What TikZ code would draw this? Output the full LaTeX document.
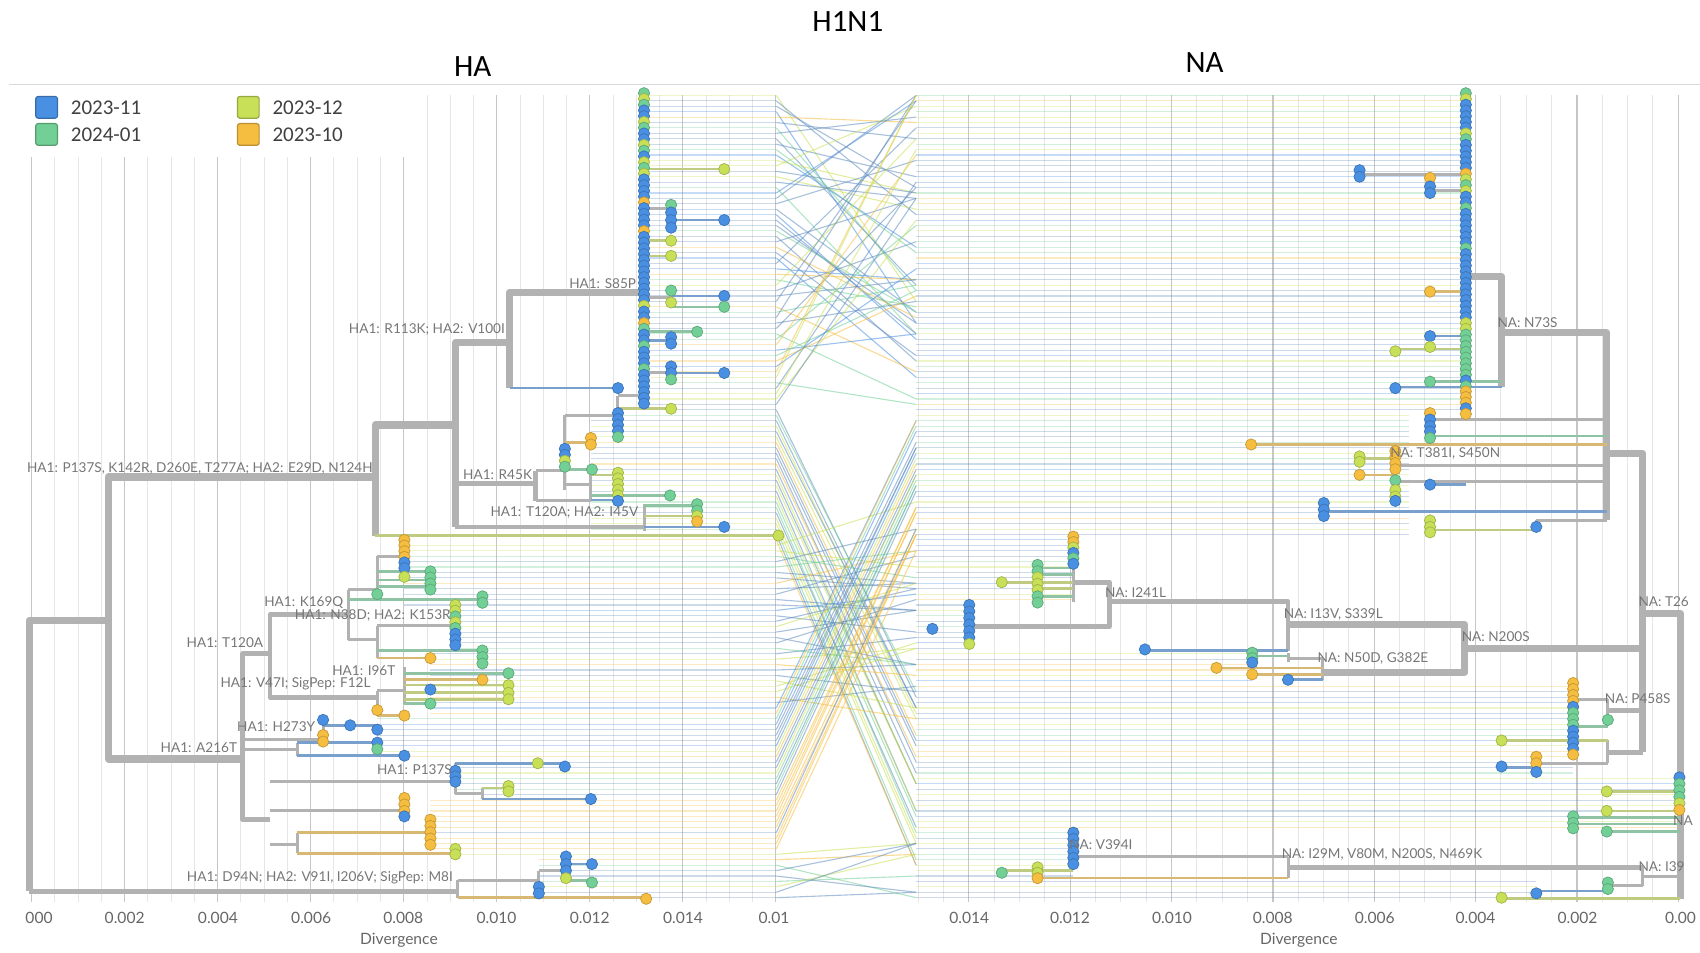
\documentclass[tikz,border=0pt]{standalone}
\usepackage{fontspec}
\setmainfont{Lato}
\newfontfamily\calfont{Carlito}
\definecolor{cB}{RGB}{74,144,226}
\definecolor{cG}{RGB}{114,208,150}
\definecolor{cY}{RGB}{200,224,88}
\definecolor{cO}{RGB}{246,190,64}
\definecolor{brc}{RGB}{178,178,178}
\definecolor{lab}{RGB}{118,118,118}
\definecolor{gridm}{RGB}{230,230,230}
\definecolor{gridM}{RGB}{198,198,198}
\definecolor{lnB}{RGB}{96,140,190}
\def\colsel#1{\ifcase#1 lnB\or lnB\or cB\or lnB\or cG\or cG\or cY\or cY\or cO\or lnB\else cO\fi}
\newcommand\tip[3]{\fill[fill=#3, draw=#3!80!black, line width=0.35pt] (#1,#2) circle[radius=5.2];}
\newcommand\tipcolumn[4]{\foreach \c [count=\i from 0] in {#4}{\tip{#1}{#2+\i*#3}{\c}}}
\tikzset{
  x=0.5421pt, y=-0.5421pt,
  brT/.style={draw=brc, line width=3.6pt, line join=round},
  brM/.style={draw=brc, line width=2.4pt, line join=round},
  brS/.style={draw=brc, line width=1.5pt, line join=round},
  tw/.style={draw=#1!55!brc, line width=1.3pt},
  lead/.style={line width=0.55pt, draw opacity=0.32},
  cross/.style={line width=0.55pt, draw opacity=0.55},
  lbl/.style={font=\fontsize{6.8}{8}\selectfont, text=lab, inner sep=0.5pt},
  tick/.style={font=\fontsize{7.8}{9}\selectfont, text=black!60},
  ttl/.style={font=\calfont\fontsize{15.5}{17}\selectfont},
  leg/.style={font=\calfont\fontsize{10.5}{12}\selectfont, text=black!75, anchor=west, inner sep=0pt},
  legbox/.style={rounded corners=1.2pt, line width=0.6pt}
}
\begin{document}
\begin{tikzpicture}
\useasboundingbox (0,0) rectangle (1568,879);
\begin{scope}
\clip (0,0) rectangle (1568,879);
% titles
\node[ttl] (t0) at (782,20) {H1N1};
\node[ttl] (t1) at (436,61) {HA};
\node[ttl] (t2) at (1111,58) {NA};
\draw[gray!30, line width=0.6pt] (8,78) -- (1568,78);
% legend
\draw[legbox, fill=cB, draw=cB!75!black] (33,89) rectangle (53,109);
\draw[legbox, fill=cG, draw=cG!75!black] (33,114) rectangle (53,134);
\draw[legbox, fill=cY, draw=cY!75!black] (219,89) rectangle (239,109);
\draw[legbox, fill=cO, draw=cO!75!black] (219,114) rectangle (239,134);
\node[leg] (g1) at (65,99) {2023-11};
\node[leg] (g2) at (65,124) {2024-01};
\node[leg] (g3) at (251,99) {2023-12};
\node[leg] (g4) at (251,124) {2023-10};
% grid HA
\foreach \i in {0,...,32}{
  \pgfmathsetmacro\gx{29.2+\i*21.45}
  \pgfmathsetmacro\gy{\gx<390 ? 145 : 88}
  \pgfmathtruncatemacro\mj{mod(\i,4)==0 ? 1 : 0}
  \ifnum\mj=1 \draw[gridM, line width=0.6pt] (\gx,\gy) -- (\gx,832);
  \else \draw[gridm, line width=0.5pt] (\gx,\gy) -- (\gx,832); \fi
}
% grid NA
\foreach \i in {0,...,30}{
  \pgfmathsetmacro\gx{1548-\i*23.37}
  \pgfmathtruncatemacro\mj{mod(\i,4)==0 ? 1 : 0}
  \ifnum\mj=1 \draw[gridM, line width=0.6pt] (\gx,88) -- (\gx,832);
  \else \draw[gridm, line width=0.5pt] (\gx,88) -- (\gx,832); \fi
}
% NA leader lines
\pgfmathsetseed{5}
\foreach \k in {0,...,148}{
  \pgfmathsetmacro\yn{88+5*\k}
  \pgfmathsetmacro\xe{\yn<380 ? 1352 : (\yn<497 ? 1300 : (\yn<556 ? 990 : (\yn<600 ? 894 : (\yn<630 ? 1155 : (\yn<715 ? 1451 : (\yn<768 ? 1549 : (\yn<812 ? 990 : 1417)))))))}
  \pgfmathrandominteger{\ci}{0}{9}
  \edef\cc{\colsel{\ci}}
  \draw[lead, draw=\cc] (845,\yn) -- (\xe,\yn);
}
% HA leader + crossing lines
\pgfmathsetseed{11}
\foreach \k in {0,...,148}{
  \pgfmathsetmacro\ya{88+5*\k}
  \pgfmathsetmacro\xs{\ya<380 ? 594 : (\ya<500 ? 545 : (\ya<560 ? 373 : (\ya<600 ? 420 : (\ya<660 ? 397 : (\ya<700 ? 348 : (\ya<735 ? 420 : (\ya<790 ? 397 : 497)))))))}
  \pgfmathsetmacro\ybr{\k<58 ? 88+285*rnd : (\k<83 ? 625+7*(\k-58)+20*rnd : (\k<113 ? 495+5*(\k-83)+70*(rnd-0.5) : (\k<140 ? 380+4.6*(\k-113)+12*rnd : 775+55*rnd)))}
  \pgfmathsetmacro\yb{88+5*round((\ybr-88)/5)}
  \pgfmathrandominteger{\ci}{0}{9}
  \pgfmathtruncatemacro\cj{(\ya>735 && \ya<795) ? (rnd<0.75 ? 8 : \ci) : \ci}
  \edef\cc{\colsel{\cj}}
  \draw[lead, draw=\cc] (\xs,\ya) -- (716,\ya);
  \draw[cross, draw=\cc] (716,\ya) -- (845,\yb);
}
% ================= HA tree =================
\draw[brT] (100,572) -- (27,572) -- (27,822);
\draw[brM] (27,822) -- (422,822);
\draw[brT] (346,440) -- (100,440) -- (100,700) -- (224,700);
\draw[brT] (420,392) -- (346,392) -- (346,494);
\draw[brT] (470,316) -- (420,316) -- (420,486);
\draw[brT] (594,270) -- (470,270) -- (470,358);
\draw[brM] (594,86) -- (594,378);
\draw[tw=cY] (346,494) -- (718,494);
\draw[tw=cB] (470,358) -- (570,358);
% R45K
\draw[brM] (420,446) -- (494,446);
\draw[brM] (494,434) -- (494,462);
\draw[brS] (494,434) -- (521,434);
\draw[brS] (521,383) -- (521,452);
\draw[brS] (521,383) -- (570,383);
\draw[brS] (570,365) -- (570,403);
\draw[brS] (570,365) -- (594,365);
\draw[tw=cY] (570,377) -- (619,377);
\draw[tw=cO] (521,408) -- (545,408);
\draw[tw=cG] (521,433) -- (546,433);
\draw[brS] (521,447) -- (545,447);
\draw[brS] (545,437) -- (545,461);
\draw[tw=cY] (545,438) -- (570,438);
\draw[tw=cB] (545,461) -- (570,461);
\draw[tw=cG] (545,457) -- (618,457);
\draw[brS] (494,462) -- (545,462);
% T120A; I45V
\draw[brM] (420,486) -- (594,486);
\draw[brS] (594,465) -- (594,490);
\draw[tw=cG] (594,466) -- (643,466);
\draw[tw=cY] (594,476) -- (643,476);
\draw[tw=cB] (594,486) -- (668,486);
% top column twigs
\draw[tw=cY] (594,156) -- (668,156);
\draw[brS] (594,192) -- (619,192);
\draw[brS] (619,189) -- (619,210);
\draw[tw=cB] (619,203) -- (668,203);
\draw[tw=cY] (594,222) -- (619,222);
\draw[tw=cY] (594,236) -- (619,236);
\draw[brS] (594,274) -- (619,274);
\draw[brS] (619,268) -- (619,282);
\draw[tw=cB] (619,273) -- (668,273);
\draw[tw=cG] (619,283) -- (668,283);
\draw[tw=cG] (594,306) -- (643,306);
\draw[tw=cB] (594,314) -- (619,314);
\draw[brS] (594,344) -- (619,344);
\draw[brS] (619,338) -- (619,350);
\draw[tw=cB] (619,344) -- (668,344);
% lower HA
\draw[brM] (249,603) -- (224,603) -- (224,756) -- (249,756);
\draw[brM] (321,567) -- (249,567) -- (249,643) -- (348,643);
\draw[brS] (321,544) -- (321,590);
\draw[brS] (321,544) -- (348,544);
\draw[brS] (348,513) -- (348,552);
\draw[brS] (348,513) -- (373,513);
\draw[tw=cG] (348,527) -- (397,527);
\draw[tw=cG] (348,535) -- (397,535);
\draw[tw=cG] (348,541) -- (397,541);
\draw[tw=cG] (321,553) -- (445,553);
\draw[brS] (321,590) -- (348,590);
\draw[brS] (348,577) -- (348,607);
\draw[brS] (348,577) -- (420,577);
\draw[tw=cO] (348,607) -- (397,607);
\draw[tw=cG] (348,600) -- (445,600);
\draw[brS] (348,637) -- (348,660);
\draw[brS] (348,637) -- (373,637);
\draw[brS] (373,615) -- (373,649);
\draw[tw=cG] (373,621) -- (469,621);
\draw[tw=cO] (373,627) -- (445,627);
\draw[tw=cY] (373,632) -- (469,632);
\draw[tw=cY] (373,639) -- (469,639);
\draw[tw=cY] (373,645) -- (469,645);
\draw[tw=cG] (373,649) -- (397,649);
\draw[tw=cO] (348,660) -- (373,660);
\draw[brS] (224,682) -- (298,682);
\draw[brS] (298,664) -- (298,685);
\draw[tw=cB] (298,669) -- (348,669);
\draw[brS] (224,691) -- (274,691);
\draw[brS] (274,685) -- (274,697);
\draw[tw=cB] (274,685) -- (348,685);
\draw[tw=cB] (274,697) -- (373,697);
\draw[brS] (249,721) -- (420,721);
\draw[brS] (420,704) -- (420,732);
\draw[tw=cB] (420,704) -- (521,704);
\draw[brS] (420,732) -- (445,732);
\draw[brS] (445,727) -- (445,737);
\draw[tw=cY] (445,727) -- (469,727);
\draw[tw=cB] (445,737) -- (545,737);
\draw[brS] (249,748) -- (373,748);
\draw[brS] (249,779) -- (274,779);
\draw[brS] (274,768) -- (274,787);
\draw[tw=cO] (274,768) -- (397,768);
\draw[tw=cO] (274,787) -- (420,787);
\draw[brS] (422,812) -- (422,828);
\draw[brS] (422,812) -- (497,812);
\draw[brS] (497,803) -- (497,822);
\draw[brS] (497,803) -- (522,803);
\draw[brS] (522,790) -- (522,812);
\draw[tw=cB] (522,797) -- (546,797);
\draw[tw=cG] (522,812) -- (546,812);
\draw[tw=cO] (422,828) -- (596,828);
% HA tips
\tipcolumn{594}{86}{5.3}{cG,cY,cG,cB,cB,cY,cG,cB,cB,cY,cG,cB,cY,cG,cY,cB,cB,cB,cB,cO,cB,cB,cB,cB,cO,cB,cB,cB,cB,cB,cB,cB,cB,cB,cB,cB,cB,cY,cB,cB,cO,cG,cB,cB,cG,cB,cB,cB,cG,cB,cB,cB,cB,cB,cB}
\tip{668}{156}{cY}
\tip{619}{189}{cG}\tip{619}{196}{cB}\tip{619}{203}{cB}\tip{619}{210}{cB}\tip{668}{203}{cB}
\tip{619}{222}{cY}\tip{619}{236}{cY}
\tip{619}{268}{cG}\tip{668}{273}{cB}\tip{619}{279}{cY}\tip{668}{283}{cG}
\tip{643}{306}{cG}\tip{619}{311}{cB}\tip{619}{317}{cB}
\tip{619}{338}{cB}\tip{619}{344}{cB}\tip{619}{350}{cG}\tip{668}{344}{cB}
\tip{570}{358}{cB}\tip{619}{377}{cY}
\tipcolumn{570}{381}{5.5}{cB,cB,cB,cB,cG}
\tip{545}{404}{cO}\tip{545}{410}{cO}
\tipcolumn{521}{414}{5.5}{cB,cB,cY,cG}
\tip{546}{433}{cG}
\tipcolumn{570}{436}{5.2}{cY,cY,cY,cY,cY,cB}
\tip{618}{457}{cG}
\tip{643}{465}{cG}\tip{643}{471}{cG}\tip{643}{476}{cY}\tip{643}{481}{cO}\tip{668}{486}{cB}
\tip{718}{494}{cY}
\tipcolumn{373}{498}{5.2}{cO,cO,cO,cO,cB,cB}
\tip{373}{532}{cY}
\tipcolumn{397}{527}{5.6}{cG,cG,cG,cG}
\tip{348}{548}{cG}
\tip{445}{550}{cG}\tip{445}{556}{cG}
\tipcolumn{420}{558}{5.3}{cY,cY,cG,cY,cG,cB,cB,cB}
\tip{445}{600}{cG}\tip{445}{606}{cG}\tip{445}{612}{cG}
\tip{397}{607}{cO}
\tip{469}{621}{cG}\tip{445}{627}{cO}\tip{469}{632}{cY}\tip{469}{639}{cY}\tip{469}{645}{cY}
\tip{397}{636}{cB}\tip{397}{649}{cG}
\tip{348}{655}{cO}\tip{373}{660}{cO}
\tip{298}{664}{cB}\tip{323}{669}{cB}\tip{348}{673}{cB}
\tip{298}{678}{cO}\tip{298}{684}{cO}\tip{348}{685}{cB}\tip{348}{691}{cG}\tip{373}{697}{cB}
\tip{496}{704}{cY}\tip{521}{707}{cB}
\tip{420}{711}{cB}\tip{420}{716}{cB}\tip{420}{721}{cB}
\tip{469}{725}{cY}\tip{469}{730}{cY}\tip{545}{737}{cB}
\tip{373}{736}{cO}\tip{373}{742}{cO}\tip{373}{748}{cO}\tip{373}{753}{cB}
\tipcolumn{397}{756}{5.8}{cO,cO,cO,cO,cO}
\tip{420}{783}{cY}\tip{420}{788}{cY}
\tip{522}{790}{cB}\tip{522}{797}{cB}\tip{522}{803}{cB}\tip{522}{810}{cY}
\tip{546}{797}{cB}\tip{546}{814}{cG}
\tip{497}{818}{cB}\tip{497}{824}{cB}
\tip{596}{829}{cO}
% HA labels
\node[lbl, anchor=east] (h1) at (588,262) {HA1: S85P};
\node[lbl, anchor=east] (h2) at (467,304) {HA1: R113K; HA2: V100I};
\node[lbl, anchor=east] (h3) at (345,432) {HA1: P137S, K142R, D260E, T277A; HA2: E29D, N124H};
\node[lbl, anchor=east] (h4) at (492,438) {HA1: R45K};
\node[lbl, anchor=east] (h5) at (590,473) {HA1: T120A; HA2: I45V};
\node[lbl, anchor=east] (h6) at (318,556) {HA1: K169Q};
\node[lbl, anchor=east] (h7) at (417,568) {HA1: N38D; HA2: K153R};
\node[lbl, anchor=east] (h8) at (244,593) {HA1: T120A};
\node[lbl, anchor=east] (h9) at (366,619) {HA1: I96T};
\node[lbl, anchor=east] (h10) at (343,631) {HA1: V47I; SigPep: F12L};
\node[lbl, anchor=east] (h11) at (292,670) {HA1: H273Y};
\node[lbl, anchor=east] (h12) at (220,690) {HA1: A216T};
\node[lbl, anchor=east] (h13) at (418,710) {HA1: P137S};
\node[lbl, anchor=east] (h14) at (419,810) {HA1: D94N; HA2: V91I, I206V; SigPep: M8I};
% ================= NA tree =================
\draw[brT] (1515,566) -- (1550,566) -- (1550,829);
\draw[brT] (1482,418) -- (1515,418) -- (1515,694);
\draw[brT] (1385,307) -- (1482,307) -- (1482,480);
\draw[brT] (1352,255) -- (1385,255) -- (1385,357);
\draw[brM] (1352,86) -- (1352,384);
\draw[tw=cB] (1385,357) -- (1287,357);
\draw[brT] (1351,598) -- (1515,598);
\draw[brT] (1188,576) -- (1351,576) -- (1351,620) -- (1220,620);
\draw[brM] (1023,555) -- (1188,555) -- (1188,600);
\draw[tw=cB] (1188,600) -- (1056,600);
\draw[brM] (990,537) -- (1023,537) -- (1023,578) -- (894,578);
\draw[brS] (990,495) -- (990,555);
\draw[tw=cG] (990,524) -- (957,524);
\draw[tw=cG] (990,530) -- (957,530);
\draw[tw=cY] (990,537) -- (924,537);
\draw[tw=cY] (990,543) -- (957,543);
\draw[tw=cG] (990,550) -- (957,550);
\draw[brS] (1220,607) -- (1220,627);
\draw[brS] (1220,607) -- (1188,607);
\draw[brS] (1188,602) -- (1188,611);
\draw[tw=cG] (1188,605) -- (1155,605);
\draw[tw=cO] (1220,616) -- (1122,616);
\draw[tw=cO] (1220,622) -- (1155,622);
\draw[tw=cB] (1220,627) -- (1188,627);
\draw[brM] (1515,655) -- (1483,655);
\draw[brS] (1483,645) -- (1483,670);
\draw[brS] (1483,645) -- (1451,645);
\draw[tw=cG] (1483,670) -- (1451,670);
\draw[brM] (1515,694) -- (1483,694);
\draw[brS] (1483,683) -- (1483,704);
\draw[tw=cY] (1483,683) -- (1385,683);
\draw[brS] (1483,704) -- (1417,704);
\draw[brS] (1417,698) -- (1417,712);
\draw[tw=cB] (1417,708) -- (1385,708);
\draw[tw=cY] (1550,730) -- (1482,730);
\draw[tw=cY] (1550,748) -- (1482,748);
\draw[tw=cG] (1550,754) -- (1451,754);
\draw[tw=cG] (1550,760) -- (1451,760);
\draw[tw=cG] (1550,767) -- (1482,767);
\draw[brS] (1550,808) -- (1515,808);
\draw[brS] (1515,800) -- (1515,817);
\draw[brM] (1515,800) -- (1188,800);
\draw[brS] (1188,790) -- (1188,810);
\draw[brS] (1188,790) -- (990,790);
\draw[tw=cO] (1188,810) -- (957,810);
\draw[tw=cY] (990,803) -- (924,803);
\draw[brS] (1515,817) -- (1483,817);
\draw[tw=cB] (1483,822) -- (1417,822);
\draw[tw=cY] (1550,829) -- (1385,829);
\draw[brS] (1482,387) -- (1319,387);
\draw[brS] (1319,381) -- (1319,400);
\draw[tw=cG] (1482,402) -- (1319,402);
\draw[tw=cO] (1482,410) -- (1154,410);
\draw[brS] (1482,429) -- (1287,429);
\draw[brS] (1287,416) -- (1287,438);
\draw[tw=cY] (1287,423) -- (1254,423);
\draw[tw=cO] (1287,438) -- (1254,438);
\draw[brS] (1482,444) -- (1287,444);
\draw[brS] (1287,443) -- (1287,462);
\draw[tw=cB] (1352,447) -- (1319,447);
\draw[tw=cB] (1482,472) -- (1221,472);
\draw[brS] (1482,480) -- (1417,480);
\draw[brS] (1417,480) -- (1417,489);
\draw[tw=cY] (1417,489) -- (1319,489);
\draw[brS] (1352,161) -- (1254,161);
\draw[brS] (1352,176) -- (1319,176);
\draw[tw=cO] (1352,269) -- (1319,269);
\draw[tw=cB] (1352,310) -- (1319,310);
\draw[tw=cY] (1352,322) -- (1287,322);
\draw[tw=cG] (1385,352) -- (1319,352);
% NA tips
\tipcolumn{1352}{86}{5.3}{cG,cY,cB,cB,cB,cB,cB,cY,cG,cB,cB,cB,cB,cB,cO,cY,cG,cY,cB,cB,cG,cB,cB,cB,cB,cB,cB,cG,cB,cB,cB,cB,cB,cB,cB,cB,cB,cB,cB,cB,cY,cY,cG,cG,cG,cG,cG,cG,cG,cG,cB,cG}
\tipcolumn{1352}{361}{5.2}{cO,cO,cO,cB,cO}
\tip{1254}{157}{cB}\tip{1254}{163}{cB}
\tip{1319}{164}{cO}\tip{1319}{172}{cB}\tip{1319}{178}{cB}
\tip{1319}{269}{cO}
\tip{1319}{310}{cB}\tip{1319}{320}{cY}\tip{1287}{324}{cY}\tip{1319}{352}{cG}\tip{1287}{358}{cB}
\tip{1319}{381}{cO}\tip{1319}{387}{cB}\tip{1319}{393}{cB}\tip{1319}{398}{cB}\tip{1319}{404}{cG}
\tip{1154}{410}{cO}
\tip{1254}{421}{cY}\tip{1254}{426}{cY}\tip{1254}{438}{cO}
\tipcolumn{1287}{416}{5.6}{cO,cO,cO,cO}
\tip{1287}{443}{cG}\tip{1319}{447}{cB}\tip{1287}{452}{cY}\tip{1287}{458}{cY}\tip{1287}{462}{cB}
\tip{1221}{464}{cB}\tip{1221}{470}{cB}\tip{1221}{476}{cB}
\tip{1319}{480}{cY}\tip{1319}{486}{cY}\tip{1319}{491}{cY}\tip{1417}{486}{cB}
\tipcolumn{990}{495}{5}{cO,cO,cY,cB,cG,cB}
\tipcolumn{957}{521}{5.8}{cG,cG,cY,cY,cY,cG,cG}
\tip{924}{537}{cY}
\tipcolumn{894}{558}{6}{cB,cB,cB,cB,cB,cB,cY}
\tip{860}{580}{cB}
\tip{1056}{599}{cB}
\tip{1155}{602}{cG}\tip{1155}{607}{cG}\tip{1155}{611}{cB}
\tip{1122}{616}{cO}\tip{1155}{622}{cO}\tip{1188}{627}{cB}
\tipcolumn{1451}{630}{5.5}{cO,cO,cO,cO,cB,cG,cG,cG,cB,cB,cB,cB,cO}
\tip{1483}{664}{cG}
\tip{1385}{683}{cY}\tip{1385}{707}{cB}
\tip{1417}{698}{cO}\tip{1417}{704}{cO}\tip{1417}{712}{cB}
\tipcolumn{1549}{717}{6}{cB,cG,cG,cG,cY,cO}
\tip{1482}{730}{cY}\tip{1482}{748}{cY}
\tip{1451}{753}{cG}\tip{1451}{759}{cG}\tip{1451}{764}{cG}\tip{1482}{767}{cG}
\tipcolumn{990}{768}{5.8}{cB,cB,cB,cB,cB,cB}
\tip{924}{805}{cG}\tip{957}{800}{cY}\tip{957}{805}{cY}\tip{957}{810}{cO}
\tip{1483}{814}{cG}\tip{1483}{820}{cG}\tip{1417}{824}{cB}\tip{1385}{828}{cY}
% NA labels
\node[lbl, anchor=west] (n1) at (1380,298) {NA: N73S};
\node[lbl, anchor=west] (n2) at (1281,418) {NA: T381I, S450N};
\node[lbl, anchor=west] (n3) at (1018,547) {NA: I241L};
\node[lbl, anchor=west] (n4) at (1183,567) {NA: I13V, S339L};
\node[lbl, anchor=west] (n5) at (1347,587) {NA: N200S};
\node[lbl, anchor=west] (n6) at (1214,607) {NA: N50D, G382E};
\node[lbl, anchor=west] (n7) at (1479,644) {NA: P458S};
\node[lbl, anchor=west] (n8) at (1510,555) {NA: T26};
\node[lbl, anchor=west] (n9) at (1542,757) {NA};
\node[lbl, anchor=west] (n10) at (1181,788) {NA: I29M, V80M, N200S, N469K};
\node[lbl, anchor=west] (n11) at (1510,799) {NA: I39};
\node[lbl, anchor=west] (n12) at (985,779) {NA: V394I};
% axes
\node[tick] (a0) at (36,847) {000};
\node[tick] (a1) at (115,847) {0.002};
\node[tick] (a2) at (201,847) {0.004};
\node[tick] (a3) at (287,847) {0.006};
\node[tick] (a4) at (372,847) {0.008};
\node[tick] (a5) at (458,847) {0.010};
\node[tick] (a6) at (544,847) {0.012};
\node[tick] (a7) at (630,847) {0.014};
\node[tick] (a8) at (714,847) {0.01};
\node[tick] (ad) at (368,867) {Divergence};
\node[tick] (b1) at (894,847) {0.014};
\node[tick] (b2) at (987,847) {0.012};
\node[tick] (b3) at (1081,847) {0.010};
\node[tick] (b4) at (1174,847) {0.008};
\node[tick] (b5) at (1268,847) {0.006};
\node[tick] (b6) at (1361,847) {0.004};
\node[tick] (b7) at (1455,847) {0.002};
\node[tick] (b8) at (1550,847) {0.00};
\node[tick] (bd) at (1198,867) {Divergence};
\end{scope}
\end{tikzpicture}
\end{document}
